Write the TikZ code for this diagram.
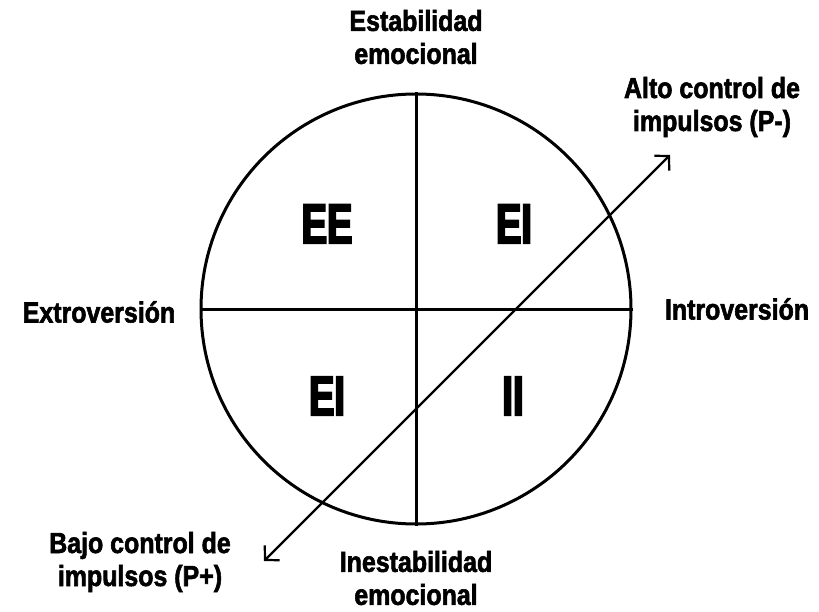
\documentclass[tikz,border=0pt]{standalone}
\usepackage{fontspec}
\setmainfont{Liberation Sans}[FakeStretch=0.86, BoldFeatures={FakeBold=2}]
\newfontfamily\quadfont{Liberation Sans}[FakeStretch=0.68, BoldFeatures={FakeBold=3.5}]
\usetikzlibrary{arrows.meta, positioning}

\begin{document}
\begin{tikzpicture}[x=1pt, y=-1pt,
	every node/.style = {align=center, inner sep=0pt},
	axislabel/.style = {font=\fontsize{29}{33}\selectfont\bfseries},
	quadlabel/.style = {font=\quadfont\fontsize{56}{58}\selectfont\bfseries},
	axisline/.style = {line width=3pt},
	dimarrow/.style = {line width=2.2pt, {Straight Barb[length=10pt,width=21pt]}-{Straight Barb[length=10pt,width=21pt]}}]
	\useasboundingbox (0,0) rectangle (819,612);
	% circle and the two axes
	\node[circle, draw, axisline, minimum size=430pt] (circ) at (416,309) {};
	\draw[axisline] (circ.north) -- (circ.south);
	\draw[axisline] (circ.west) -- (circ.east);
	% impulse control arrow
	\coordinate (bajoend) at (264,561);
	\coordinate (altoend) at (670,155);
	\draw[dimarrow] (bajoend) -- (altoend);
	% quadrants
	\node[quadlabel] (ee) at (327,224) {EE};
	\node[quadlabel] (ei) at (514,224) {EI};
	\node[quadlabel] (eib) at (327,396) {EI};
	\node[quadlabel] (ii) at (513,396) {II};
	% axis labels
	\node[axislabel] (estab) at (416,37) {Estabilidad\\emocional};
	\node[axislabel] (inestab) at (416,578) {Inestabilidad\\emocional};
	\node[axislabel] (extro) at (99,312) {Extroversión};
	\node[axislabel] (intro) at (737,309) {Introversión};
	\node[axislabel] (alto) at (712,107) {Alto control de\\impulsos (P-)};
	\node[axislabel] (bajo) at (140,562) {Bajo control de\\impulsos (P+)};
\end{tikzpicture}
\end{document}
